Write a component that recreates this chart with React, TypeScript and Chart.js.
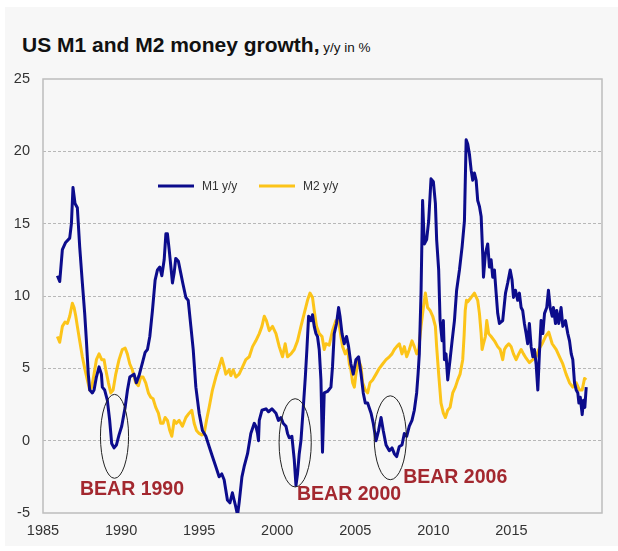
import React, { useEffect, useRef } from "react";
import { Chart, registerables } from "chart.js";

Chart.register(...registerables);

// ---------- data (year fraction, % y/y) ----------
const m1Years = [
  1985.92, 1986.07, 1986.24, 1986.45, 1986.71, 1986.82, 1986.92, 1987.05, 1987.2, 1987.35,
  1987.52, 1987.67, 1987.78, 1987.9, 1987.99, 1988.16, 1988.27, 1988.42, 1988.59, 1988.74,
  1988.8, 1988.95, 1989.12, 1989.27, 1989.4, 1989.55, 1989.7, 1989.87, 1990.04, 1990.26,
  1990.41, 1990.56, 1990.83, 1990.98, 1991.15, 1991.37, 1991.54, 1991.69, 1991.84, 1992.01,
  1992.18, 1992.33, 1992.48, 1992.61, 1992.76, 1992.87, 1992.97, 1993.08, 1993.21, 1993.29,
  1993.4, 1993.5, 1993.67, 1993.82, 1993.95, 1994.15, 1994.3, 1994.47, 1994.62, 1994.79,
  1995.0, 1995.21, 1995.43, 1995.64, 1995.85, 1996.07, 1996.28, 1996.45, 1996.6, 1996.81,
  1996.97, 1997.13, 1997.24, 1997.35, 1997.46, 1997.56, 1997.74, 1997.88, 1998.1, 1998.31,
  1998.53, 1998.63, 1998.74, 1998.8, 1998.85, 1999.02, 1999.28, 1999.44, 1999.66, 1999.92,
  2000.08, 2000.24, 2000.38, 2000.56, 2000.66, 2000.77, 2000.94, 2001.09, 2001.2, 2001.3,
  2001.41, 2001.52, 2001.67, 2001.8, 2001.9, 2002.01, 2002.16, 2002.26, 2002.37, 2002.48,
  2002.58, 2002.69, 2002.8, 2002.9, 2003.01, 2003.22, 2003.44, 2003.54, 2003.65, 2003.8,
  2003.93, 2004.02, 2004.15, 2004.29, 2004.44, 2004.57, 2004.72, 2004.87, 2005.04, 2005.21,
  2005.37, 2005.51, 2005.64, 2005.79, 2006.01, 2006.15, 2006.33, 2006.49, 2006.65, 2006.79,
  2006.97, 2007.18, 2007.35, 2007.5, 2007.65, 2007.82, 2007.99, 2008.14, 2008.29, 2008.46,
  2008.63, 2008.78, 2008.93, 2009.02, 2009.1, 2009.21, 2009.31, 2009.42, 2009.57, 2009.7,
  2009.85, 2010.0, 2010.13, 2010.21, 2010.34, 2010.43, 2010.56, 2010.64, 2010.71, 2010.81,
  2010.92, 2011.07, 2011.2, 2011.35, 2011.49, 2011.67, 2011.84, 2011.99, 2012.1, 2012.2,
  2012.31, 2012.42, 2012.52, 2012.63, 2012.74, 2012.84, 2012.95, 2013.06, 2013.16, 2013.21,
  2013.33, 2013.48, 2013.59, 2013.7, 2013.8, 2013.91, 2014.02, 2014.12, 2014.23, 2014.44,
  2014.62, 2014.76, 2014.92, 2015.04, 2015.13, 2015.26, 2015.4, 2015.51, 2015.62, 2015.72,
  2015.83, 2015.94, 2016.04, 2016.15, 2016.26, 2016.37, 2016.47, 2016.58, 2016.69, 2016.79,
  2016.9, 2017.01, 2017.12, 2017.26, 2017.37, 2017.48, 2017.61, 2017.69, 2017.82, 2017.9,
  2018.03, 2018.18, 2018.29, 2018.46, 2018.61, 2018.72, 2018.83, 2018.93, 2019.04, 2019.15,
  2019.25, 2019.32, 2019.41, 2019.53, 2019.62, 2019.7, 2019.79,
];
const m1Values = [
  11.4, 11.0, 13.2, 13.7, 14.0, 15.0, 17.5, 16.4, 16.1, 13.4,
  10.9, 8.8, 6.9, 4.6, 3.5, 3.3, 3.5, 4.4, 5.1, 4.6,
  3.7, 3.5, 2.8, 1.4, -0.2, -0.5, -0.3, 0.4, 1.0, 2.3,
  3.5, 4.4, 4.6, 4.0, 4.5, 5.4, 6.1, 6.3, 7.2, 9.0,
  11.1, 11.8, 12.0, 11.4, 12.5, 14.3, 14.3, 13.2, 11.8, 10.9,
  11.6, 12.6, 12.4, 11.6, 10.9, 9.9, 9.7, 7.9, 6.3, 3.7,
  1.9, 0.7, 0.3, -0.4, -1.1, -1.8, -2.5, -2.3, -2.7, -4.1,
  -4.3, -3.6, -4.1, -4.6, -5.15, -4.3, -2.5, -1.8, -0.9, 0.5,
  1.2, 1.0, 0.5, 0.0, 1.4, 2.1, 2.2, 2.0, 2.2, 1.9,
  1.4, 1.6, 1.2, 1.0, 0.5, 0.2, 0.3, -1.3, -3.1, -2.3,
  -0.9, 0.0, 2.3, 4.4, 6.3, 8.6, 8.3, 8.7, 7.9, 7.4,
  7.2, 6.3, 4.2, -0.8, 3.3, 3.4, 3.7, 5.1, 7.4, 8.1,
  9.2, 8.6, 7.4, 6.7, 7.2, 6.5, 5.3, 4.6, 5.6, 5.8,
  4.6, 3.3, 2.6, 2.6, 1.9, 1.2, 0.0, 0.7, 1.6, 0.7,
  -0.3, -0.7, -0.5, -0.9, -1.1, -0.4, -0.3, 0.5, 0.3, 1.0,
  1.4, 2.1, 3.3, 4.6, 6.0, 10.2, 16.6, 13.6, 13.9, 15.2,
  18.1, 17.9, 16.4, 13.9, 11.8, 8.3, 6.9, 8.3, 5.6, 6.0,
  4.2, 5.6, 6.9, 8.3, 10.4, 11.8, 13.4, 15.2, 20.8, 20.5,
  19.8, 18.7, 18.0, 18.5, 18.0, 16.6, 16.2, 15.5, 12.9, 11.3,
  12.9, 13.6, 12.0, 12.5, 11.3, 11.8, 10.2, 8.8, 8.1, 8.3,
  10.2, 10.9, 11.8, 11.1, 9.9, 10.4, 9.7, 10.2, 9.2, 9.0,
  8.1, 7.4, 6.7, 8.1, 6.5, 5.8, 6.3, 5.3, 3.5, 6.0,
  8.3, 7.4, 8.8, 9.2, 10.4, 9.2, 8.6, 9.2, 8.1, 9.0,
  8.1, 9.2, 7.9, 8.3, 7.4, 6.9, 6.0, 5.6, 4.0, 3.5,
  3.3, 2.6, 3.0, 1.8, 2.8, 2.3, 3.7,
];

const m2Years = [
  1985.92, 1986.07, 1986.24, 1986.41, 1986.56, 1986.71, 1986.88, 1986.99, 1987.1, 1987.2,
  1987.35, 1987.52, 1987.69, 1987.84, 1987.99, 1988.12, 1988.27, 1988.42, 1988.59, 1988.76,
  1988.91, 1989.02, 1989.19, 1989.34, 1989.49, 1989.66, 1989.87, 1990.08, 1990.26, 1990.4,
  1990.56, 1990.72, 1990.94, 1991.11, 1991.26, 1991.41, 1991.58, 1991.75, 1991.9, 1992.05,
  1992.22, 1992.39, 1992.54, 1992.69, 1992.82, 1992.97, 1993.12, 1993.25, 1993.4, 1993.54,
  1993.72, 1993.93, 1994.15, 1994.36, 1994.53, 1994.68, 1994.83, 1995.0, 1995.17, 1995.32,
  1995.47, 1995.64, 1995.85, 1996.07, 1996.28, 1996.45, 1996.6, 1996.71, 1996.92, 1997.03,
  1997.18, 1997.35, 1997.56, 1997.78, 1997.99, 1998.21, 1998.42, 1998.63, 1998.85, 1999.02,
  1999.17, 1999.31, 1999.49, 1999.7, 1999.92, 2000.13, 2000.34, 2000.51, 2000.66, 2000.88,
  2001.09, 2001.3, 2001.52, 2001.73, 2001.94, 2002.1, 2002.26, 2002.37, 2002.52, 2002.69,
  2002.87, 2003.01, 2003.12, 2003.33, 2003.54, 2003.76, 2003.93, 2004.08, 2004.19, 2004.36,
  2004.51, 2004.62, 2004.72, 2004.83, 2004.94, 2005.04, 2005.21, 2005.37, 2005.47, 2005.64,
  2005.79, 2005.94, 2006.11, 2006.33, 2006.54, 2006.75, 2006.97, 2007.18, 2007.35, 2007.5,
  2007.65, 2007.82, 2007.99, 2008.14, 2008.29, 2008.46, 2008.63, 2008.78, 2008.93, 2009.06,
  2009.21, 2009.36, 2009.49, 2009.63, 2009.79, 2009.96, 2010.13, 2010.21, 2010.34, 2010.49,
  2010.64, 2010.77, 2010.92, 2011.07, 2011.24, 2011.41, 2011.56, 2011.71, 2011.88, 2011.97,
  2012.04, 2012.12, 2012.2, 2012.42, 2012.63, 2012.84, 2012.95, 2013.06, 2013.12, 2013.21,
  2013.33, 2013.42, 2013.54, 2013.7, 2013.91, 2014.12, 2014.28, 2014.44, 2014.55, 2014.66,
  2014.83, 2014.98, 2015.13, 2015.3, 2015.47, 2015.62, 2015.77, 2015.94, 2016.15, 2016.37,
  2016.58, 2016.75, 2016.97, 2017.18, 2017.39, 2017.61, 2017.87, 2018.08, 2018.29, 2018.5,
  2018.72, 2018.93, 2019.15, 2019.36, 2019.53, 2019.68, 2019.79,
];
const m2Values = [
  7.2, 6.8, 7.9, 8.2, 8.1, 8.6, 9.5, 9.2, 8.6, 7.9,
  6.9, 5.8, 4.9, 4.2, 3.5, 3.7, 4.6, 5.6, 6.0, 5.6,
  5.6, 4.9, 4.0, 3.3, 3.5, 4.6, 5.6, 6.3, 6.4, 6.0,
  5.3, 4.9, 4.0, 3.8, 4.4, 4.4, 4.0, 3.3, 3.0, 2.9,
  2.3, 1.9, 1.2, 1.2, 1.6, 1.4, 0.7, 0.3, 1.4, 1.2,
  1.4, 1.0, 1.6, 1.9, 2.1, 1.2, 0.7, 0.5, 0.4, 0.5,
  1.4, 2.3, 3.5, 4.4, 5.1, 5.7, 5.1, 4.6, 4.9, 4.5,
  4.9, 4.4, 4.6, 5.1, 5.6, 5.8, 6.5, 6.9, 7.4, 7.9,
  8.6, 8.3, 7.6, 7.9, 7.4, 6.5, 5.8, 6.7, 5.8, 6.0,
  6.3, 6.9, 7.9, 8.8, 9.7, 10.2, 9.9, 9.0, 7.9, 7.4,
  7.2, 6.3, 6.7, 6.6, 7.6, 8.3, 8.3, 7.2, 6.5, 6.0,
  6.3, 5.3, 4.9, 4.0, 3.7, 4.6, 5.6, 5.1, 4.0, 3.5,
  3.3, 4.0, 4.2, 4.6, 5.0, 5.3, 5.6, 5.8, 6.0, 6.3,
  6.5, 6.7, 6.0, 6.5, 5.8, 6.3, 6.9, 6.5, 6.0, 6.3,
  7.9, 9.2, 10.2, 9.2, 9.0, 8.6, 7.9, 6.5, 4.6, 2.6,
  1.9, 1.6, 2.1, 2.3, 3.3, 3.7, 4.2, 4.6, 5.6, 7.3,
  9.0, 9.7, 9.6, 9.9, 10.2, 9.7, 8.8, 7.4, 6.3, 6.7,
  7.2, 8.3, 7.4, 7.2, 6.9, 6.5, 6.3, 5.6, 6.3, 6.5,
  6.7, 6.5, 6.0, 5.6, 6.0, 6.3, 6.0, 5.7, 5.4, 5.6,
  5.8, 6.3, 6.7, 7.2, 7.5, 6.7, 6.3, 5.8, 5.3, 4.6,
  4.0, 3.7, 4.0, 3.5, 3.5, 4.3, 4.2,
];

const xTickYears = [1985, 1990, 1995, 2000, 2005, 2010, 2015];
const yTicks = [-5, 0, 5, 10, 15, 20, 25];

// annotations: BEAR markets
const bearLabels = ["BEAR 1990", "BEAR 2000", "BEAR 2006"];
const bearCenterYears = [1989.58, 2001.15, 2007.24];
const bearCenterValues = [0.3, -0.15, 0.2];
const bearHalfYears = [0.9, 1.03, 1.03];
const bearHalfValues = [2.9, 3.05, 2.9];
const bearLabelYears = [1990.7, 2004.6, 2011.4];
const bearLabelValues = [-3.4, -3.75, -2.55];

const seriesNames = ["M1 y/y", "M2 y/y"];

const M1_COLOR = "#0c0c8c";
const M2_COLOR = "#fcc419";
const FONT = "'Liberation Sans', Arial, Helvetica, sans-serif";

export default function App() {
  const canvasRef = useRef<HTMLCanvasElement | null>(null);

  useEffect(() => {
    const canvas = canvasRef.current;
    if (!canvas) return;

    const framePlugin = {
      id: "frame",
      beforeDatasetsDraw(chart: any) {
        const { ctx, chartArea } = chart;
        ctx.save();
        ctx.strokeStyle = "#bdbdbd";
        ctx.lineWidth = 1.5;
        ctx.strokeRect(
          chartArea.left,
          chartArea.top,
          chartArea.right - chartArea.left,
          chartArea.bottom - chartArea.top
        );
        ctx.restore();
      },
    };

    const annotationPlugin = {
      id: "bears",
      afterDatasetsDraw(chart: any) {
        const { ctx } = chart;
        const xs = chart.scales.x;
        const ys = chart.scales.y;
        ctx.save();
        for (let i = 0; i < bearLabels.length; i++) {
          const cx = xs.getPixelForValue(bearCenterYears[i]);
          const cy = ys.getPixelForValue(bearCenterValues[i]);
          const rx = Math.abs(xs.getPixelForValue(bearCenterYears[i] + bearHalfYears[i]) - cx);
          const ry = Math.abs(ys.getPixelForValue(bearCenterValues[i] + bearHalfValues[i]) - cy);
          ctx.beginPath();
          ctx.ellipse(cx, cy, rx, ry, 0, 0, Math.PI * 2);
          ctx.strokeStyle = "#222222";
          ctx.lineWidth = 1;
          ctx.stroke();
        }
        ctx.fillStyle = "#a3282f";
        ctx.font = `bold 19.5px ${FONT}`;
        ctx.textAlign = "center";
        ctx.textBaseline = "middle";
        for (let i = 0; i < bearLabels.length; i++) {
          ctx.fillText(
            bearLabels[i],
            xs.getPixelForValue(bearLabelYears[i]),
            ys.getPixelForValue(bearLabelValues[i])
          );
        }
        // legend
        const colors = [M1_COLOR, M2_COLOR];
        const lx = [158, 259];
        const ly = 186;
        ctx.font = `12px ${FONT}`;
        ctx.textAlign = "left";
        for (let i = 0; i < seriesNames.length; i++) {
          ctx.beginPath();
          ctx.moveTo(lx[i], ly);
          ctx.lineTo(lx[i] + 36, ly);
          ctx.strokeStyle = colors[i];
          ctx.lineWidth = 2.8;
          ctx.stroke();
          ctx.fillStyle = "#333333";
          ctx.fillText(seriesNames[i], lx[i] + 44, ly + 1);
        }
        ctx.restore();
      },
    };

    const chart = new Chart(canvas, {
      type: "line",
      data: {
        datasets: [
          {
            label: seriesNames[0],
            data: m1Years.map((x, i) => ({ x, y: m1Values[i] })),
            borderColor: M1_COLOR,
            borderWidth: 3,
            pointRadius: 0,
            tension: 0,
            borderJoinStyle: "round",
            fill: false,
          },
          {
            label: seriesNames[1],
            data: m2Years.map((x, i) => ({ x, y: m2Values[i] })),
            borderColor: M2_COLOR,
            borderWidth: 3,
            pointRadius: 0,
            tension: 0,
            borderJoinStyle: "round",
            fill: false,
          },
        ],
      },
      options: {
        animation: false,
        responsive: false,
        devicePixelRatio: 1,
        events: [],
        layout: { padding: { left: 0, top: 79, right: 16, bottom: 8 } },
        plugins: {
          legend: { display: false },
          title: { display: false },
          tooltip: { enabled: false },
        },
        scales: {
          x: {
            type: "linear",
            min: 1985,
            max: 2020.8,
            afterBuildTicks: (scale: any) => {
              scale.ticks = xTickYears.map((v) => ({ value: v }));
            },
            afterFit: (scale: any) => {
              scale.height = 30;
            },
            grid: { display: false, drawTicks: false },
            border: { display: false },
            ticks: {
              autoSkip: false,
              maxRotation: 0,
              padding: 9,
              color: "#333333",
              font: { family: FONT, size: 14.5 },
              callback: (v: any) => String(v),
            },
          },
          y: {
            min: -5,
            max: 25,
            afterBuildTicks: (scale: any) => {
              scale.ticks = yTicks.map((v) => ({ value: v }));
            },
            afterFit: (scale: any) => {
              scale.width = 43;
            },
            grid: {
              drawTicks: false,
              color: (c: any) =>
                c.tick && (c.tick.value === 25 || c.tick.value === -5)
                  ? "rgba(0,0,0,0)"
                  : "#b8b8b8",
              lineWidth: 1,
            },
            border: { display: false, dash: [3, 2] },
            ticks: {
              padding: 13,
              color: "#333333",
              font: { family: FONT, size: 14.5 },
              callback: (v: any) => String(v),
            },
          },
        },
      },
      plugins: [framePlugin, annotationPlugin],
    } as any);

    return () => {
      chart.destroy();
    };
  }, []);

  return (
    <div
      style={{
        position: "fixed",
        left: 0,
        top: 0,
        width: 618,
        height: 551,
        background: "#ffffff",
        overflow: "hidden",
      }}
    >
      <div
        style={{
          position: "absolute",
          left: 5,
          top: 7,
          right: 0,
          bottom: 5,
          background: "#f7f7f7",
        }}
      />
      <div
        style={{
          position: "absolute",
          left: 22,
          top: 33,
          whiteSpace: "nowrap",
          fontFamily: FONT,
          color: "#111111",
          lineHeight: "24px",
        }}
      >
        <span style={{ fontSize: 21, fontWeight: "bold" }}>US M1 and M2 money growth,</span>
        <span style={{ fontSize: 13.5 }}> y/y in %</span>
      </div>
      <canvas
        ref={canvasRef}
        width={618}
        height={551}
        style={{ position: "absolute", left: 0, top: 0, width: 618, height: 551 }}
      />
    </div>
  );
}
